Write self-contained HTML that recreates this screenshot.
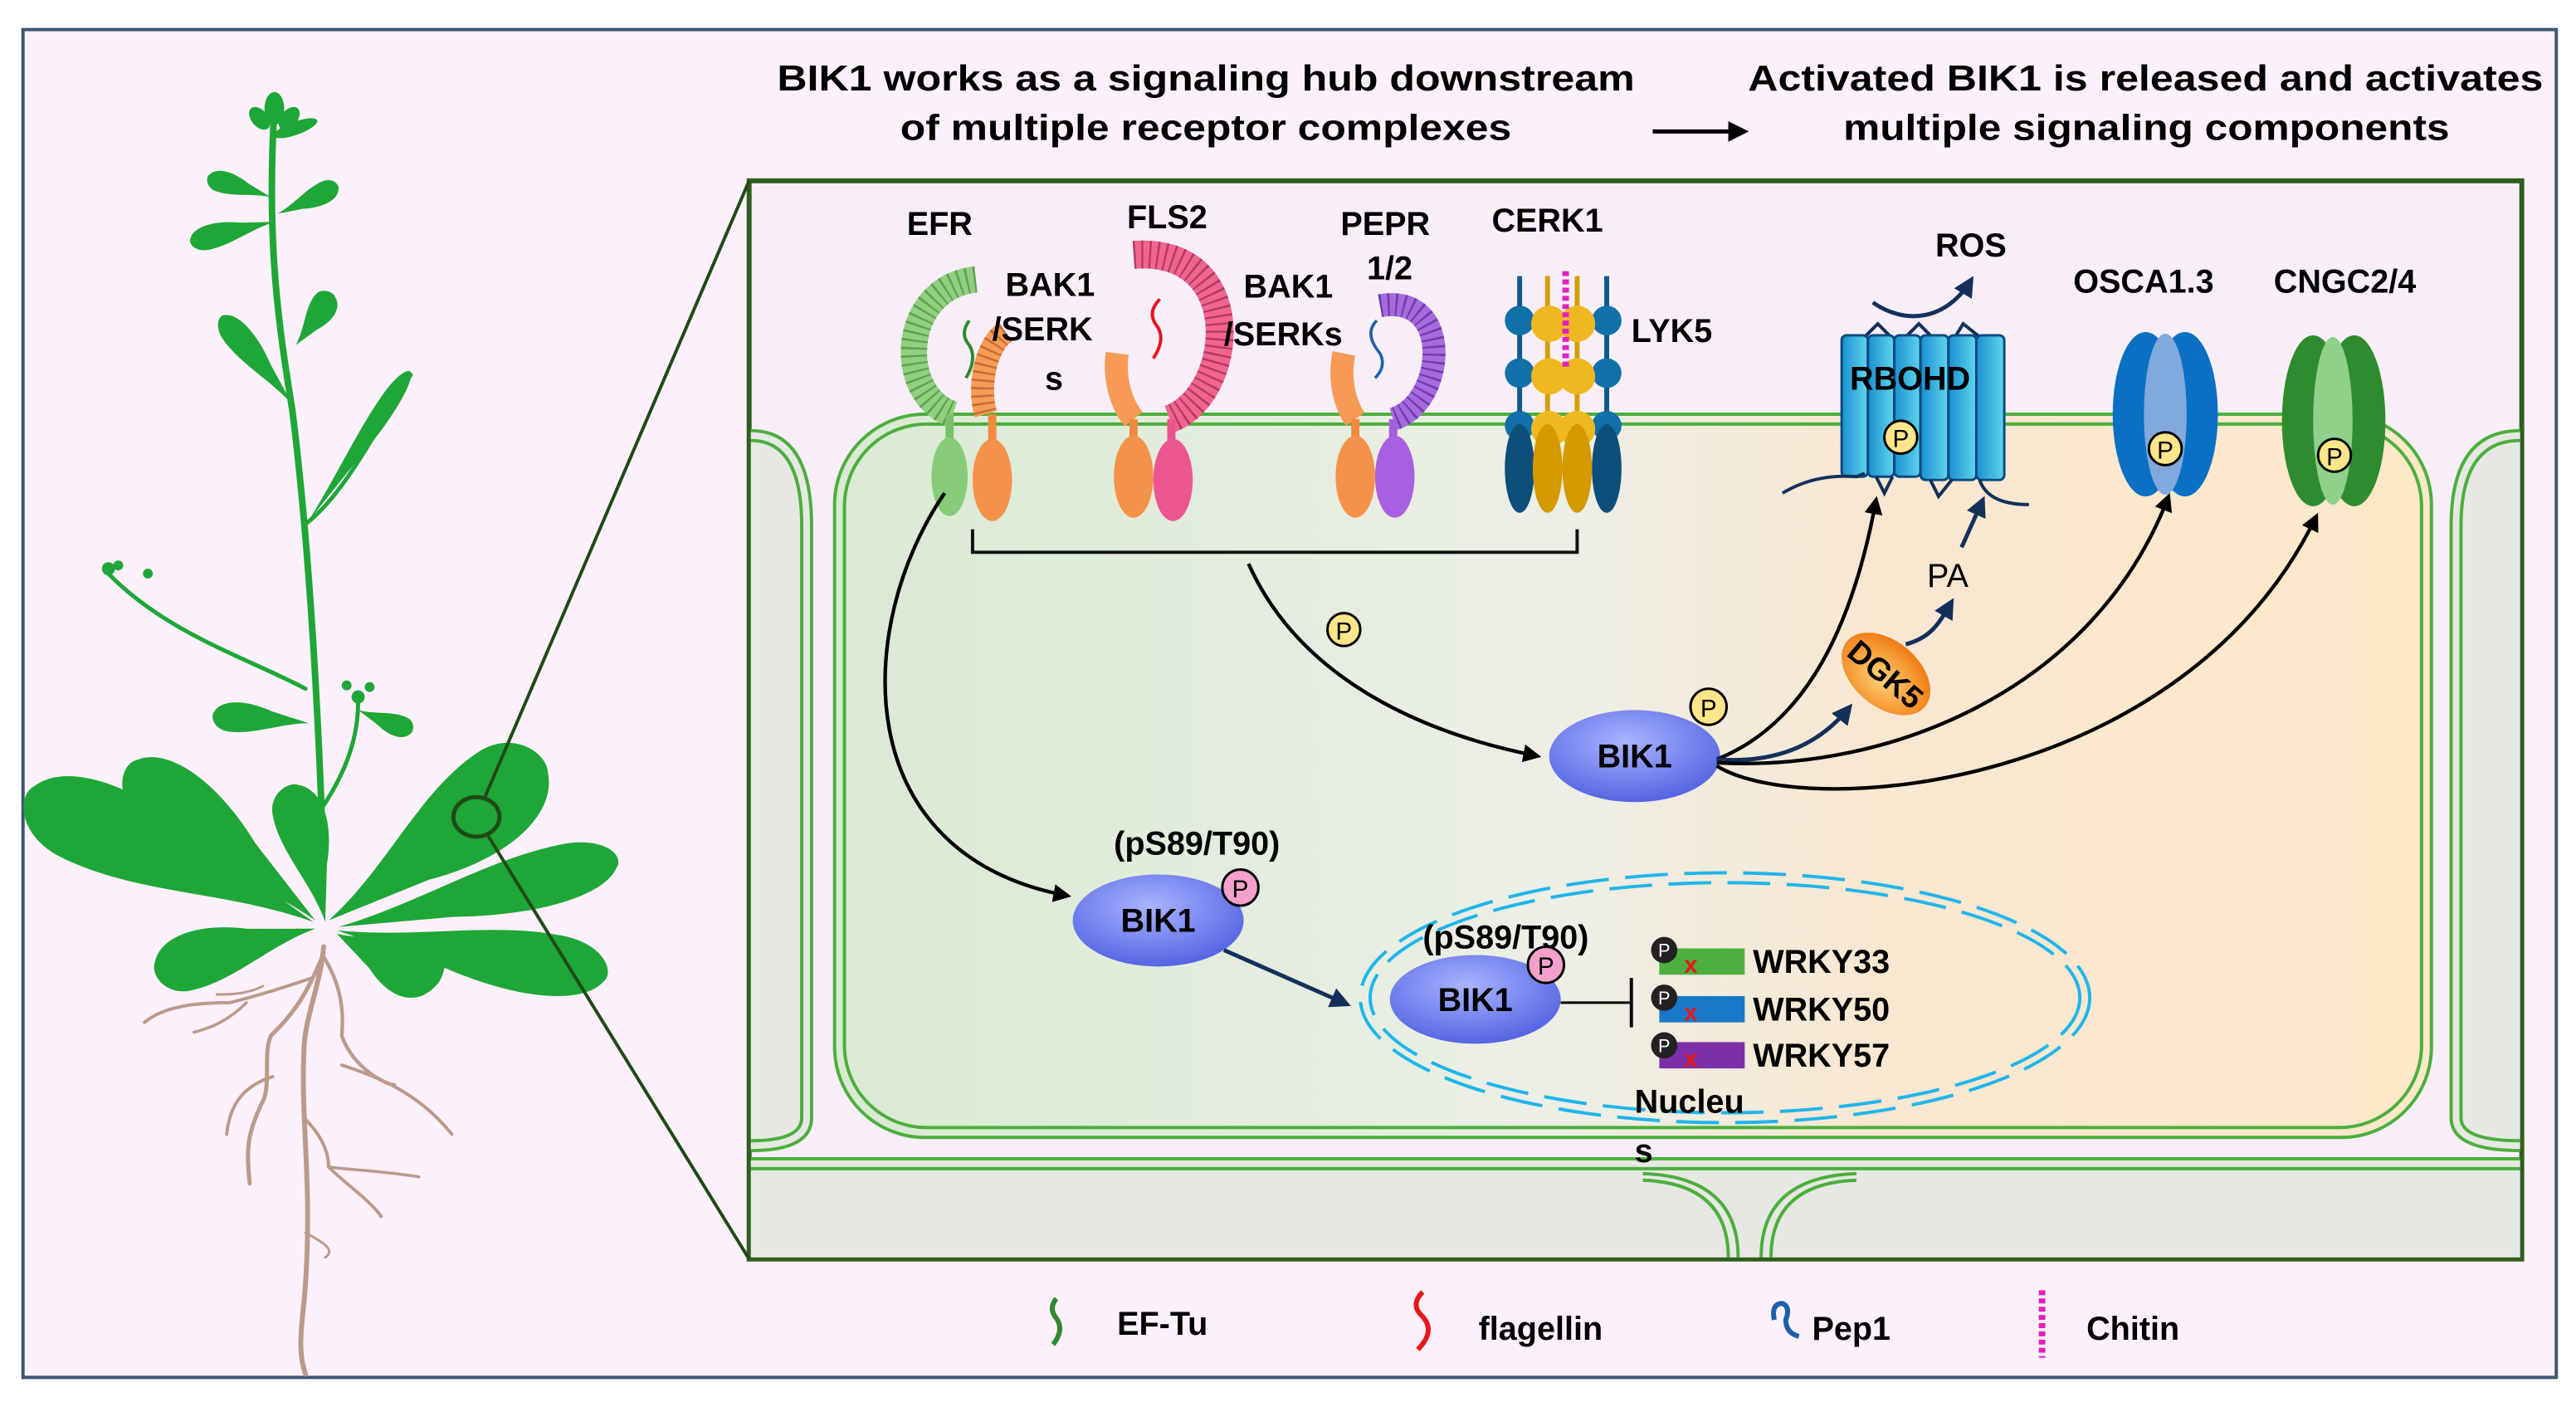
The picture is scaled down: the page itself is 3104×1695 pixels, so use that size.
<!DOCTYPE html>
<html><head><meta charset="utf-8"><style>
html,body{margin:0;padding:0;background:#fff;}
svg{display:block;}
text{font-family:"Liberation Sans",Arial,sans-serif;}
</style></head><body>
<svg width="3104" height="1695" viewBox="0 0 1568 856" preserveAspectRatio="none" xmlns="http://www.w3.org/2000/svg">
<defs>
<marker id="ab" viewBox="0 0 10 10" refX="8" refY="5" markerWidth="5" markerHeight="5" orient="auto"><path d="M0,0 L10,5 L0,10 z" fill="#000"/></marker>
<marker id="an" viewBox="0 0 10 10" refX="8" refY="5" markerWidth="5" markerHeight="5" orient="auto"><path d="M0,0 L10,5 L0,10 z" fill="#12305a"/></marker>
<linearGradient id="cell" x1="0" x2="1" y1="0" y2="0">
<stop offset="0" stop-color="#d9ead3"/><stop offset="0.45" stop-color="#ecefe6"/><stop offset="0.65" stop-color="#f9e7d2"/><stop offset="1" stop-color="#fde8c8"/></linearGradient>
<radialGradient id="bik" cx="0.45" cy="0.35" r="0.7"><stop offset="0" stop-color="#aab4ff"/><stop offset="1" stop-color="#4e5fe0"/></radialGradient>
<radialGradient id="dgk" cx="0.5" cy="0.6" r="0.6"><stop offset="0" stop-color="#ffd37a"/><stop offset="1" stop-color="#f07a10"/></radialGradient>
<linearGradient id="cyl" x1="0" x2="1"><stop offset="0" stop-color="#1a8fd0"/><stop offset="1" stop-color="#5fd6ee"/></linearGradient>
<path id="leaf" d="M0,0 C30,-4 55,-20 82,-20 C98,-20 104,-6 100,0 C94,14 70,18 40,8 C20,4 10,2 0,0Z"/>
</defs>
<rect x="0" y="0" width="1568" height="856" fill="#fff"/>
<rect x="14" y="18" width="1542" height="820" fill="#fcf0fb" stroke="#3b5673" stroke-width="2"/>

<!-- titles -->
<text x="473" y="55" font-size="22" font-weight="bold" textLength="522" lengthAdjust="spacingAndGlyphs">BIK1  works as a signaling hub downstream</text>
<text x="548" y="85" font-size="22" font-weight="bold" textLength="372" lengthAdjust="spacingAndGlyphs">of multiple receptor complexes</text>
<text x="1064" y="55" font-size="22" font-weight="bold" textLength="484" lengthAdjust="spacingAndGlyphs">Activated BIK1 is released and activates</text>
<text x="1122" y="85" font-size="22" font-weight="bold" textLength="369" lengthAdjust="spacingAndGlyphs">multiple signaling components</text>
<line x1="1006" y1="80" x2="1062" y2="80" stroke="#000" stroke-width="2.5" marker-end="url(#ab)"/>

<!-- panel -->
<rect x="456" y="110" width="1079" height="656" fill="#f8eef8" stroke="#2e5e1e" stroke-width="3"/>
<!-- side cells -->
<path d="M457,262 Q494,262 494,320 L494,680 Q494,700 457,700" fill="#e6e9e3" stroke="#4cae3c" stroke-width="2"/>
<path d="M457,268 Q488,268 488,320 L488,680 Q488,694 457,694" fill="none" stroke="#4cae3c" stroke-width="2"/>
<path d="M1534,262 Q1492,262 1492,320 L1492,680 Q1492,700 1534,700" fill="#e6e9e3" stroke="#4cae3c" stroke-width="2"/>
<path d="M1534,268 Q1498,268 1498,320 L1498,680 Q1498,694 1534,694" fill="none" stroke="#4cae3c" stroke-width="2"/>
<!-- bottom cells -->
<rect x="457" y="706" width="1077" height="59" fill="#e6e9e3"/>
<line x1="457" y1="705" x2="1534" y2="705" stroke="#4cae3c" stroke-width="2"/>
<line x1="457" y1="711" x2="1534" y2="711" stroke="#4cae3c" stroke-width="2"/>
<path d="M1058,765 Q1058,716 1000,714" fill="none" stroke="#4cae3c" stroke-width="2"/>
<path d="M1052,765 Q1052,720 1000,718" fill="none" stroke="#4cae3c" stroke-width="2"/>
<path d="M1072,765 Q1072,716 1130,714" fill="none" stroke="#4cae3c" stroke-width="2"/>
<path d="M1078,765 Q1078,720 1130,718" fill="none" stroke="#4cae3c" stroke-width="2"/>
<!-- main cell -->
<rect x="508" y="252" width="972" height="440" rx="55" fill="url(#cell)" stroke="#4cae3c" stroke-width="2"/>
<rect x="514" y="258" width="960" height="428" rx="50" fill="none" stroke="#4cae3c" stroke-width="2"/>

<!-- EFR -->
<text x="552" y="143" font-size="20" font-weight="bold">EFR</text>
<path d="M594,170 C548,175 545,240 580,252" fill="none" stroke="#8fcf7f" stroke-width="16"/>
<path d="M594,170 C548,175 545,240 580,252" fill="none" stroke="#4d8c40" stroke-width="16" stroke-dasharray="1.2 3.5" opacity="0.7"/>
<path d="M590,195 q-6,8 0,15 q5,8 -2,20" fill="none" stroke="#2e8b2e" stroke-width="2"/>
<path d="M612,202 C600,210 595,235 600,252" fill="none" stroke="#f79a55" stroke-width="14"/>
<path d="M612,202 C600,210 595,235 600,252" fill="none" stroke="#a05020" stroke-width="14" stroke-dasharray="1.2 3.5" opacity="0.6"/>
<line x1="578" y1="252" x2="578" y2="280" stroke="#7cc06c" stroke-width="5"/>
<line x1="604" y1="252" x2="604" y2="280" stroke="#f08a40" stroke-width="5"/>
<ellipse cx="578" cy="290" rx="11" ry="24" fill="#86cc7a"/>
<ellipse cx="604" cy="292" rx="12" ry="25" fill="#f5924a"/>
<text x="612" y="180" font-size="20" font-weight="bold">BAK1</text>
<text x="604" y="207" font-size="20" font-weight="bold">/SERK</text>
<text x="636" y="237" font-size="20" font-weight="bold">s</text>

<!-- FLS2 -->
<text x="686" y="139" font-size="20" font-weight="bold">FLS2</text>
<path d="M690,155 C760,150 752,240 712,255" fill="none" stroke="#f0658f" stroke-width="17"/>
<path d="M690,155 C760,150 752,240 712,255" fill="none" stroke="#8a2040" stroke-width="17" stroke-dasharray="1.2 3.5" opacity="0.6"/>
<path d="M706,182 q-8,8 -2,16 q6,8 -2,20" fill="none" stroke="#e8141e" stroke-width="2"/>
<path d="M680,215 C678,230 682,245 690,255" fill="none" stroke="#f79a55" stroke-width="14"/>
<line x1="690" y1="255" x2="690" y2="280" stroke="#f08a40" stroke-width="5"/>
<line x1="713" y1="255" x2="713" y2="280" stroke="#e8558a" stroke-width="5"/>
<ellipse cx="690" cy="290" rx="12" ry="25" fill="#f5924a"/>
<ellipse cx="714" cy="292" rx="12" ry="25" fill="#ee5690"/>
<text x="757" y="181" font-size="20" font-weight="bold">BAK1</text>
<text x="745" y="210" font-size="20" font-weight="bold">/SERKs</text>

<!-- PEPR -->
<text x="816" y="143" font-size="20" font-weight="bold">PEPR</text>
<text x="832" y="170" font-size="20" font-weight="bold">1/2</text>
<path d="M840,186 C885,178 880,245 848,255" fill="none" stroke="#a66ae0" stroke-width="14"/>
<path d="M840,186 C885,178 880,245 848,255" fill="none" stroke="#4a2080" stroke-width="14" stroke-dasharray="1.2 3.5" opacity="0.6"/>
<path d="M838,195 q-8,8 2,20 q4,8 -3,15" fill="none" stroke="#1f5fa8" stroke-width="1.8"/>
<path d="M818,215 C815,230 818,245 825,255" fill="none" stroke="#f79a55" stroke-width="14"/>
<line x1="825" y1="255" x2="825" y2="280" stroke="#f08a40" stroke-width="5"/>
<line x1="848" y1="255" x2="848" y2="280" stroke="#a060d8" stroke-width="5"/>
<ellipse cx="825" cy="290" rx="12" ry="25" fill="#f5924a"/>
<ellipse cx="849" cy="290" rx="12" ry="25" fill="#a85fe0"/>

<!-- CERK1 -->
<text x="908" y="141" font-size="20" font-weight="bold">CERK1</text>
<g stroke-width="3">
<line x1="925" y1="168" x2="925" y2="285" stroke="#0b5a8a"/>
<line x1="978" y1="168" x2="978" y2="285" stroke="#0b5a8a"/>
<line x1="942" y1="168" x2="942" y2="285" stroke="#d4a000"/>
<line x1="960" y1="168" x2="960" y2="285" stroke="#d4a000"/>
</g>
<g fill="#1070a8"><circle cx="925" cy="195" r="9"/><circle cx="925" cy="227" r="9"/><circle cx="925" cy="259" r="9"/><circle cx="978" cy="195" r="9"/><circle cx="978" cy="227" r="9"/><circle cx="978" cy="259" r="9"/></g>
<g fill="#f0b820"><circle cx="943" cy="197" r="11"/><circle cx="960" cy="197" r="11"/><circle cx="943" cy="229" r="11"/><circle cx="960" cy="229" r="11"/><circle cx="943" cy="261" r="11"/><circle cx="960" cy="261" r="11"/></g>
<line x1="953" y1="165" x2="953" y2="225" stroke="#e020c0" stroke-width="4" stroke-dasharray="3 2"/>
<ellipse cx="925" cy="285" rx="9" ry="27" fill="#0b4f7a"/>
<ellipse cx="978" cy="285" rx="9" ry="27" fill="#0b4f7a"/>
<ellipse cx="942" cy="285" rx="9" ry="27" fill="#d49a00"/>
<ellipse cx="960" cy="285" rx="9" ry="27" fill="#d49a00"/>
<text x="993" y="208" font-size="20" font-weight="bold">LYK5</text>

<!-- bracket -->
<path d="M592,322 V336 H960 V322" fill="none" stroke="#111" stroke-width="2"/>

<!-- RBOHD -->
<text x="1178" y="156" font-size="20" font-weight="bold">ROS</text>
<path d="M1140,184 C1160,198 1185,195 1200,170" fill="none" stroke="#12305a" stroke-width="2.5" marker-end="url(#an)"/>
<path d="M1135,205 l8,-8 l8,8 M1160,205 l8,-8 l8,8 M1190,205 l5,-8 l10,8" fill="none" stroke="#12305a" stroke-width="2"/>
<g stroke="#0c4a80" stroke-width="1.5" fill="url(#cyl)">
<rect x="1121" y="204" width="16" height="86" rx="3"/><rect x="1137" y="204" width="16" height="86" rx="3"/><rect x="1153" y="204" width="16" height="86" rx="3"/><rect x="1169" y="204" width="17" height="88" rx="3"/><rect x="1186" y="204" width="17" height="88" rx="3"/><rect x="1203" y="204" width="17" height="88" rx="3"/>
</g>
<path d="M1085,300 q20,-12 45,-10 l5,-2 M1142,290 l5,10 l5,-10 M1175,292 l5,10 l8,-10 M1205,292 q5,15 30,15" fill="none" stroke="#12305a" stroke-width="2"/>
<text x="1126" y="237" font-size="20" font-weight="bold">RBOHD</text>
<circle cx="1157" cy="266" r="10" fill="#fde58a" stroke="#000" stroke-width="1.5"/><text x="1157" y="272" font-size="15" text-anchor="middle">P</text>

<!-- OSCA -->
<text x="1262" y="178" font-size="20" font-weight="bold">OSCA1.3</text>
<ellipse cx="1306" cy="252" rx="20" ry="50" fill="#0a70c4"/>
<ellipse cx="1330" cy="252" rx="20" ry="50" fill="#0a70c4"/>
<ellipse cx="1318" cy="252" rx="13" ry="49" fill="#82a9dc"/>
<circle cx="1318" cy="273" r="10" fill="#fde58a" stroke="#000" stroke-width="1.5"/><text x="1318" y="279" font-size="15" text-anchor="middle">P</text>
<!-- CNGC -->
<text x="1384" y="178" font-size="20" font-weight="bold">CNGC2/4</text>
<ellipse cx="1408" cy="256" rx="19" ry="52" fill="#2e8b2e"/>
<ellipse cx="1433" cy="256" rx="19" ry="52" fill="#2e8b2e"/>
<ellipse cx="1420" cy="256" rx="12" ry="51" fill="#8fd08a"/>
<circle cx="1421" cy="277" r="10" fill="#fde58a" stroke="#000" stroke-width="1.5"/><text x="1421" y="283" font-size="15" text-anchor="middle">P</text>

<!-- arrows from receptors -->
<path d="M760,343 C790,410 860,445 936,460" fill="none" stroke="#000" stroke-width="2.2" marker-end="url(#ab)"/>
<circle cx="818" cy="383" r="10" fill="#fde58a" stroke="#000" stroke-width="1.5"/><text x="818" y="389" font-size="15" text-anchor="middle">P</text>
<path d="M575,300 C520,380 515,520 650,545" fill="none" stroke="#000" stroke-width="2.2" marker-end="url(#ab)"/>

<!-- upper BIK1 -->
<ellipse cx="995" cy="460" rx="52" ry="28" fill="url(#bik)"/>
<text x="995" y="467" font-size="20" font-weight="bold" text-anchor="middle">BIK1</text>
<circle cx="1040" cy="430" r="11" fill="#fde58a" stroke="#000" stroke-width="1.5"/><text x="1040" y="436" font-size="15" text-anchor="middle">P</text>
<path d="M1045,462 C1100,440 1128,380 1142,304" fill="none" stroke="#000" stroke-width="2.2" marker-end="url(#ab)"/>
<path d="M1045,462 C1085,465 1110,450 1126,430" fill="none" stroke="#12305a" stroke-width="2.5" marker-end="url(#an)"/>
<path d="M1045,464 C1150,470 1275,420 1320,302" fill="none" stroke="#000" stroke-width="2.2" marker-end="url(#ab)"/>
<path d="M1045,466 C1100,500 1330,480 1410,314" fill="none" stroke="#000" stroke-width="2.2" marker-end="url(#ab)"/>
<ellipse cx="1148" cy="410" rx="31" ry="20" transform="rotate(40 1148 410)" fill="url(#dgk)"/>
<text x="1148" y="417" font-size="19" font-weight="bold" text-anchor="middle" transform="rotate(40 1148 410)">DGK5</text>
<path d="M1160,392 C1175,388 1180,380 1188,366" fill="none" stroke="#12305a" stroke-width="2.5" marker-end="url(#an)"/>
<text x="1173" y="357" font-size="20">PA</text>
<path d="M1194,333 L1207,304" fill="none" stroke="#12305a" stroke-width="2.5" marker-end="url(#an)"/>

<!-- lower BIK1 -->
<text x="678" y="520" font-size="20" font-weight="bold">(pS89/T90)</text>
<ellipse cx="705" cy="560" rx="52" ry="28" fill="url(#bik)"/>
<text x="705" y="567" font-size="20" font-weight="bold" text-anchor="middle">BIK1</text>
<circle cx="755" cy="540" r="11" fill="#f5a0cc" stroke="#000" stroke-width="1.5"/><text x="755" y="546" font-size="15" text-anchor="middle">P</text>
<path d="M745,578 L820,611" fill="none" stroke="#12305a" stroke-width="2.5" marker-end="url(#an)"/>

<!-- nucleus -->
<ellipse cx="1050" cy="607" rx="222" ry="76" fill="none" stroke="#1fb5ea" stroke-width="2" stroke-dasharray="26 10"/>
<ellipse cx="1050" cy="607" rx="216" ry="70" fill="none" stroke="#1fb5ea" stroke-width="2" stroke-dasharray="26 10"/>
<ellipse cx="898" cy="608" rx="52" ry="27" fill="url(#bik)"/>
<text x="898" y="615" font-size="20" font-weight="bold" text-anchor="middle">BIK1</text>
<text x="866" y="577" font-size="20" font-weight="bold">(pS89/T90)</text>
<circle cx="941" cy="587" r="11" fill="#f5a0cc" stroke="#000" stroke-width="1.5"/><text x="941" y="593" font-size="15" text-anchor="middle">P</text>
<line x1="950" y1="610" x2="992" y2="610" stroke="#000" stroke-width="1.5"/>
<line x1="993" y1="595" x2="993" y2="625" stroke="#000" stroke-width="2"/>
<rect x="1010" y="577" width="52" height="16" fill="#4caf3f"/>
<rect x="1010" y="606" width="52" height="16" fill="#1a78c8"/>
<rect x="1010" y="634" width="52" height="16" fill="#7b2fa8"/>
<g font-size="15" fill="#e81818" font-weight="bold"><text x="1025" y="592">x</text><text x="1025" y="621">x</text><text x="1025" y="649">x</text></g>
<g><circle cx="1013" cy="578" r="8" fill="#222"/><circle cx="1013" cy="607" r="8" fill="#222"/><circle cx="1013" cy="636" r="8" fill="#222"/></g>
<g font-size="11" fill="#fff" text-anchor="middle"><text x="1013" y="582">P</text><text x="1013" y="611">P</text><text x="1013" y="640">P</text></g>
<g font-size="20" font-weight="bold"><text x="1067" y="592">WRKY33</text><text x="1067" y="621">WRKY50</text><text x="1067" y="649">WRKY57</text></g>
<text x="995" y="677" font-size="20" font-weight="bold">Nucleu</text>
<text x="995" y="707" font-size="20" font-weight="bold">s</text>

<!-- legend -->
<path d="M643,790 q-5,6 0,12 q5,7 -2,16" fill="none" stroke="#2e8b2e" stroke-width="3"/>
<text x="680" y="812" font-size="20" font-weight="bold">EF-Tu</text>
<path d="M866,786 q-8,8 0,15 q8,9 -3,20" fill="none" stroke="#e81818" stroke-width="3"/>
<text x="900" y="815" font-size="20" font-weight="bold">flagellin</text>
<path d="M1080,803 q-2,-10 5,-10 q5,2 2,10 q0,8 8,10" fill="none" stroke="#1f5fa8" stroke-width="3"/>
<text x="1103" y="815" font-size="20" font-weight="bold">Pep1</text>
<line x1="1243" y1="785" x2="1243" y2="826" stroke="#e020c0" stroke-width="4" stroke-dasharray="3 2"/>
<text x="1270" y="815" font-size="20" font-weight="bold">Chitin</text>

<!-- plant: roots -->
<g fill="none" stroke="#bb9a8a" stroke-linecap="round">
<path d="M197,576 C195,600 185,620 185,640 C183,680 190,720 186,780 C185,800 180,820 186,836" stroke-width="3"/>
<path d="M197,580 C185,610 175,620 165,630 C160,640 165,660 160,670 C150,690 150,700 152,720" stroke-width="2.5"/>
<path d="M166,655 C150,660 140,670 138,690" stroke-width="2"/>
<path d="M197,582 C205,595 210,610 208,630 C215,650 235,660 240,660" stroke-width="2.2"/>
<path d="M208,648 C230,655 255,665 275,690" stroke-width="2"/>
<path d="M185,680 C195,690 200,700 200,710 C210,720 225,730 232,740" stroke-width="2"/>
<path d="M200,710 C215,712 230,712 255,716" stroke-width="1.8"/>
<path d="M186,750 C195,755 205,760 198,765" stroke-width="1.5"/>
<path d="M190,595 C175,600 160,605 140,610 C120,610 100,612 88,622" stroke-width="2"/>
<path d="M150,610 C140,620 130,625 118,628" stroke-width="1.8"/>
<path d="M160,600 C150,605 140,605 132,605" stroke-width="1.5"/>
</g>
<!-- plant: stem -->
<g fill="none" stroke="#1ea636" stroke-linecap="round">
<path d="M196,500 C193,420 188,330 178,250 C170,200 162,150 167,66" stroke-width="4"/>
<path d="M186,419 C150,400 100,385 64,347" stroke-width="2.5"/>
<path d="M197,490 C210,470 218,450 218,427" stroke-width="2.5"/>
<path d="M187,318 C210,300 230,260 250,228" stroke-width="2.5"/>
</g>
<g fill="#1ea636">
<use href="#leaf" transform="translate(191,561) rotate(206) scale(1.89,1.6)"/>
<use href="#leaf" transform="translate(192,560) rotate(222) scale(1.46,1.3)"/>
<use href="#leaf" transform="translate(206,564) rotate(-12) scale(1.73,1.05)"/>
<use href="#leaf" transform="translate(205,566) rotate(11) scale(1.65,1.15)"/>
<use href="#leaf" transform="translate(200,560) rotate(-34) scale(1.61,1.7)"/>
<use href="#leaf" transform="translate(205,568) rotate(28) scale(0.68,1.15)"/>
<use href="#leaf" transform="translate(192,565) rotate(168) scale(1.0,1.05)"/>
<use href="#leaf" transform="translate(198,561) rotate(259) scale(0.85,0.95)"/>
<use href="#leaf" transform="translate(188,440) rotate(187) scale(0.58,0.55)"/>
<use href="#leaf" transform="translate(218,432) rotate(24) scale(0.35,0.4)"/>
<use href="#leaf" transform="translate(187,318) rotate(-55) scale(1.1,0.35)"/>
<use href="#leaf" transform="translate(178,246) rotate(233) scale(0.68,0.5)"/>
<use href="#leaf" transform="translate(180,210) rotate(-51) scale(0.38,0.5)"/>
<use href="#leaf" transform="translate(167,135) rotate(169) scale(0.52,0.45)"/>
<use href="#leaf" transform="translate(169,130) rotate(-22) scale(0.4,0.4)"/>
<use href="#leaf" transform="translate(165,120) rotate(200) scale(0.4,0.4)"/>
<ellipse cx="167" cy="66" rx="6" ry="10"/><ellipse cx="158" cy="72" rx="5" ry="8" transform="rotate(-40 158 72)"/><ellipse cx="176" cy="72" rx="5" ry="8" transform="rotate(40 176 72)"/>
<ellipse cx="180" cy="78" rx="14" ry="4" transform="rotate(-20 180 78)"/>
<circle cx="66" cy="346" r="4"/><circle cx="72" cy="344" r="3"/><circle cx="90" cy="349" r="3"/>
<circle cx="218" cy="424" r="4"/><circle cx="211" cy="417" r="3"/><circle cx="225" cy="418" r="3"/>
</g>
<!-- zoom lines -->
<line x1="290" y1="497" x2="456" y2="110" stroke="#1f4a16" stroke-width="2"/>
<line x1="290" y1="497" x2="456" y2="766" stroke="#1f4a16" stroke-width="2"/>
<ellipse cx="290" cy="497" rx="14" ry="12" fill="#1ea636" stroke="#1f4a16" stroke-width="2.5"/>
</svg>
</body></html>
